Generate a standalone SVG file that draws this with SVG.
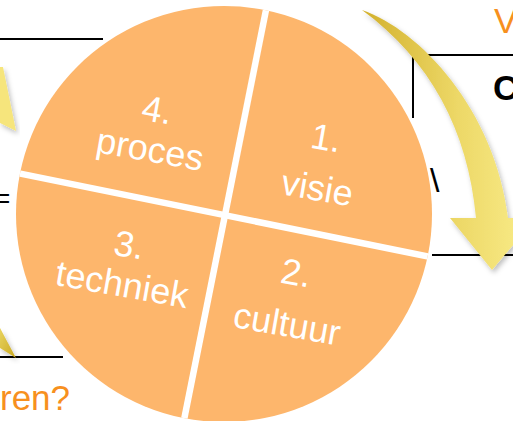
<svg xmlns="http://www.w3.org/2000/svg" width="513" height="421" viewBox="0 0 513 421">
  <style>
    .lbl { font-family: "Liberation Sans", Arial, sans-serif; font-size: 36px; fill: #ffffff; text-anchor: middle; }
    .orange { font-family: "Liberation Sans", Arial, sans-serif; font-size: 35px; fill: #F7901E; }
    .blk { font-family: "Liberation Sans", Arial, sans-serif; fill: #000000; }
    .rule { stroke: #000000; stroke-width: 2; fill: none; }
    .divider { stroke: #ffffff; stroke-width: 6.5; }
  </style>
  <defs>
    <linearGradient id="arrowGrad" x1="0" y1="0" x2="1" y2="0">
      <stop offset="0" stop-color="#D2B02C"/>
      <stop offset="0.55" stop-color="#EDD867"/>
      <stop offset="1" stop-color="#FAEE8C"/>
    </linearGradient>
    <linearGradient id="goldGrad" x1="0" y1="0" x2="1" y2="1">
      <stop offset="0" stop-color="#E8D35E"/>
      <stop offset="1" stop-color="#C9A820"/>
    </linearGradient>
    <filter id="shadow" x="-20%" y="-20%" width="140%" height="140%">
      <feDropShadow dx="2" dy="3" stdDeviation="2.5" flood-color="#000000" flood-opacity="0.25"/>
    </filter>
    <clipPath id="circleClip">
      <circle cx="224" cy="214" r="208"/>
    </clipPath>
  </defs>

  <!-- background fragments -->
  <g id="frame-lines">
    <line class="rule" x1="0" y1="39" x2="103" y2="39"/>
    <line class="rule" x1="0" y1="357" x2="63" y2="357"/>
    <line class="rule" x1="413" y1="55" x2="513" y2="55"/>
    <line class="rule" x1="413" y1="55" x2="413" y2="118"/>
    <line class="rule" x1="432" y1="255" x2="513" y2="255"/>
  </g>

  <g id="side-texts">
    <text class="blk" x="-6" y="208" font-size="28">=</text>
    <text class="orange" x="0" y="410">ren?</text>
    <text class="orange" x="494" y="33" font-size="36">V</text>
    <text class="blk" x="493" y="100" font-size="35" font-weight="bold">C</text>
    <text class="blk" x="430" y="192" font-size="34">\</text>
  </g>

  <g id="connectors">
    <polygon points="0,67 3,67 16,131 0,123" fill="#F6E57C" filter="url(#shadow)"/>
    <polygon points="0,328 16,358 0,348" fill="url(#goldGrad)" filter="url(#shadow)"/>
    <path d="M362,10 C420,30 495,110 508,218 L536,218 L492,270 L450,218 L476,218 C468,130 430,60 362,10 Z" fill="url(#arrowGrad)" filter="url(#shadow)"/>
  </g>

  <g id="circle">
    <circle cx="224" cy="214" r="208" fill="#FDB66C"/>
    <g clip-path="url(#circleClip)">
      <line class="divider" x1="0" y1="169.5" x2="450" y2="261"/>
      <line class="divider" x1="270" y1="-10" x2="180" y2="440"/>
    </g>
  </g>

  <g id="node-4" transform="translate(155,122) rotate(10)">
    <text class="lbl" x="0" y="0">4.</text>
    <text class="lbl" x="0" y="40">proces</text>
  </g>
  <g id="node-1" transform="translate(324,150) rotate(10)">
    <text class="lbl" x="0" y="0">1.</text>
    <text class="lbl" x="0" y="51">visie</text>
  </g>
  <g id="node-3" transform="translate(127,257) rotate(10)">
    <text class="lbl" x="0" y="0">3.</text>
    <text class="lbl" x="0" y="40">techniek</text>
  </g>
  <g id="node-2" transform="translate(294,285) rotate(10)">
    <text class="lbl" x="0" y="0">2.</text>
    <text class="lbl" x="0" y="52">cultuur</text>
  </g>
</svg>
